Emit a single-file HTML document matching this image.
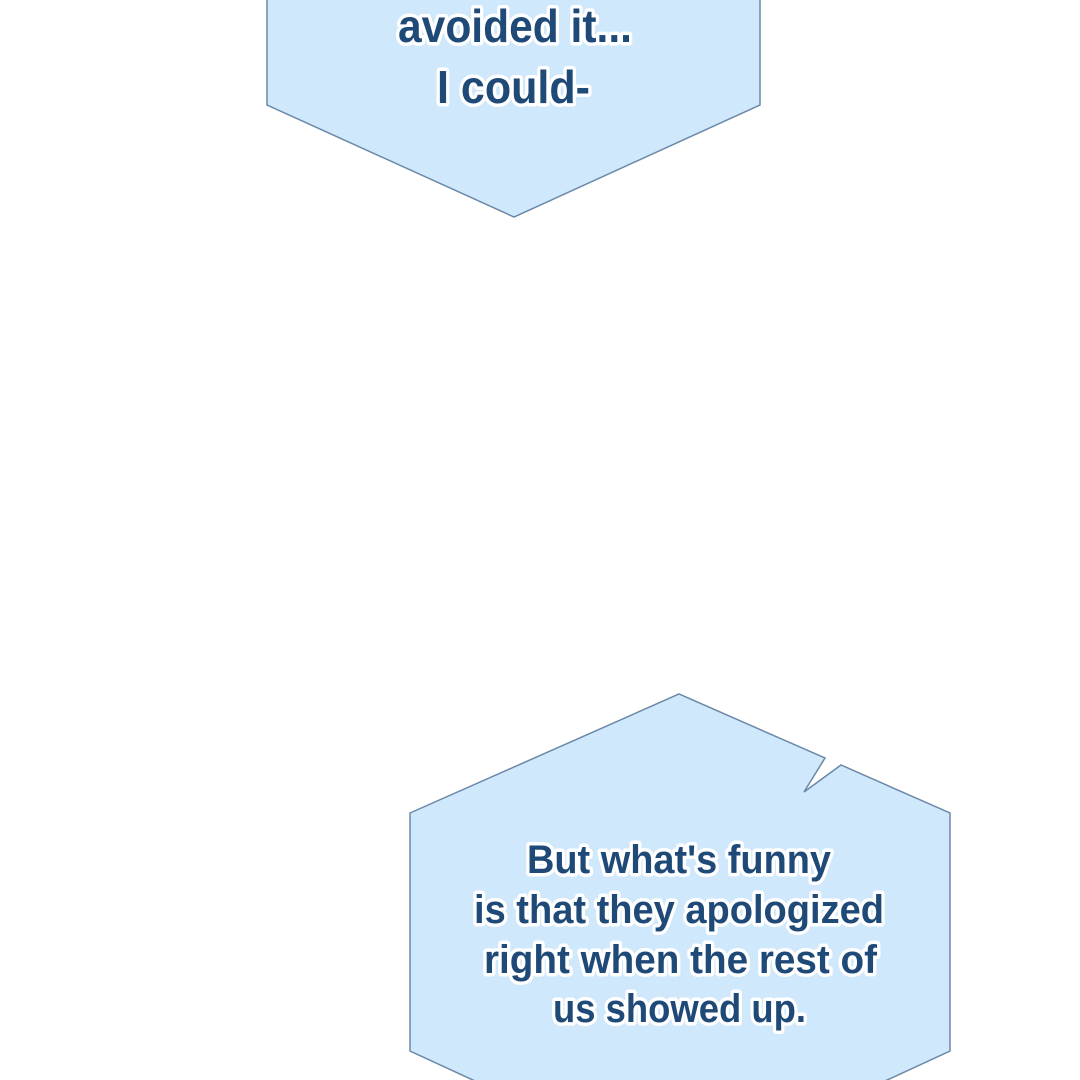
<!DOCTYPE html>
<html><head><style>html,body{margin:0;padding:0;background:#fff;width:1080px;height:1080px;overflow:hidden}</style></head>
<body>
<svg width="1080" height="1080" viewBox="0 0 1080 1080" xmlns="http://www.w3.org/2000/svg">
<polygon points="267,-2 760,-2 760,105 514,217 267,105" fill="#d0e8fc" stroke="#6a88a6" stroke-width="1.5"/>
<polygon points="410,813 679,694 825,758 804,792 841,765 950,813 950,1051 885,1081 475,1081 410,1051" fill="#d0e8fc" stroke="#6a88a6" stroke-width="1.5"/>
<g font-family="Liberation Sans, sans-serif" font-weight="bold" fill="#1f4a78" stroke="#fff" stroke-width="7" stroke-linejoin="round" paint-order="stroke" style="paint-order:stroke">
<text x="398" y="42" font-size="46" textLength="234" lengthAdjust="spacingAndGlyphs">avoided it...</text>
<text x="437" y="103" font-size="46" textLength="153" lengthAdjust="spacingAndGlyphs">I could-</text>
<text x="527" y="873" font-size="40" textLength="304" lengthAdjust="spacingAndGlyphs">But what's funny</text>
<text x="474" y="923" font-size="40" textLength="410" lengthAdjust="spacingAndGlyphs">is that they apologized</text>
<text x="484" y="973" font-size="40" textLength="393" lengthAdjust="spacingAndGlyphs">right when the rest of</text>
<text x="553" y="1022" font-size="40" textLength="253" lengthAdjust="spacingAndGlyphs">us showed up.</text>
</g>
</svg>
</body></html>
